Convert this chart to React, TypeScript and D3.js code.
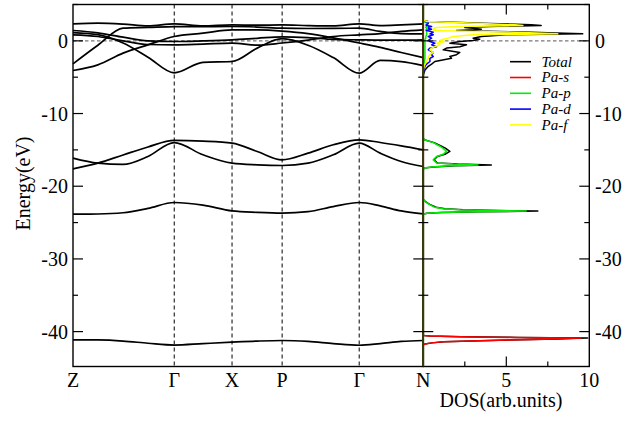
import React from "react";
import * as d3 from "d3";

// ---------- band structure data ----------
const kTicks = [0, 0.289, 0.454, 0.597, 0.817, 1.0];
const kLabels = ["Z", "Γ", "X", "P", "Γ", "N"];
const kGrid = [0, 0.071, 0.143, 0.214, 0.289, 0.371, 0.454, 0.526, 0.597, 0.671, 0.743, 0.817, 0.877, 0.937, 1.0];

const band6s = [-41.13, -41.15, -41.3, -41.6, -41.85, -41.65, -41.45, -41.3, -41.22, -41.35, -41.65, -41.88, -41.65, -41.35, -41.22];
const band5d = [-23.84, -23.82, -23.65, -23.05, -22.24, -22.6, -23.4, -23.6, -23.7, -23.5, -22.8, -22.24, -22.7, -23.4, -23.8];
const bandPa = [-16.14, -16.83, -17.0, -15.9, -14.0, -15.68, -16.83, -17.06, -17.15, -16.83, -15.68, -14.07, -15.45, -16.6, -17.29];
const bandPb = [-17.61, -16.83, -15.7, -14.6, -13.7, -13.8, -14.07, -15.22, -16.37, -15.45, -14.3, -13.62, -13.98, -14.44, -14.99];
const bandV1 = [1.14, 0.85, -0.3, -2.25, -4.4, -2.95, -2.84, -1.0, 0.3, -0.6, -2.3, -4.45, -2.7, -2.85, -3.4];
const bandV2 = [-4.08, -3.3, -1.69, -0.55, 0.6, 1.05, 1.51, 1.5, 1.35, 1.0, 0.4, -0.3, -0.9, -1.6, -2.3];
const bandV3 = [-3.16, -0.6, 1.74, 1.85, 1.97, 1.95, 1.97, 1.9, 1.74, 1.7, 1.72, 1.74, 1.3, 1.0, 0.96];
const bandV4 = [2.34, 2.43, 2.3, 2.05, 2.34, 2.05, 2.2, 2.15, 2.2, 2.1, 2.05, 2.34, 2.1, 2.2, 2.34];
const bandV5 = [1.42, 1.1, 0.5, 0.0, -0.09, 0.0, 0.14, 0.35, 0.55, 0.45, 0.2, 0.14, 0.1, 0.1, 0.14];
const bandV6 = [0.83, 0.6, 0.0, -0.5, -0.55, -0.45, -0.32, -0.6, -0.3, 0.1, 0.6, 0.83, 1.0, 1.3, 1.5];
const allBands = [band6s, band5d, bandPa, bandPb, bandV1, bandV2, bandV3, bandV4, bandV5, bandV6];

// ---------- DOS data (per energy region) ----------
const eValence = [2.8, 2.66, 2.55, 2.4, 2.2, 2.11, 1.97, 1.85, 1.74, 1.6, 1.5, 1.42, 1.3, 1.19, 1.05, 0.96, 0.83, 0.6, 0.37, 0.23, 0.05, -0.1, -0.32, -0.55, -0.8, -1.0, -1.24, -1.6, -1.9, -2.15, -2.4, -2.84, -3.2, -3.5, -4.0, -4.5, -4.8];
const totValence = [0, 0.3, 1.8, 4.0, 6.5, 7.1, 4.0, 2.5, 3.0, 3.5, 2.8, 2.0, 4.5, 6.5, 8.5, 9.6, 5.0, 3.5, 3.0, 3.4, 3.0, 2.2, 1.6, 2.6, 2.2, 1.4, 1.2, 2.2, 2.0, 1.6, 1.7, 0.7, 0.5, 0.3, 0.1, 0.03, 0];
const fValence = [0, 0.25, 1.5, 3.5, 5.5, 6.0, 2.0, 0.8, 0.6, 0.7, 0.6, 0.8, 3.0, 5.5, 7.2, 8.1, 3.0, 1.8, 1.5, 1.2, 1.0, 1.3, 0.8, 1.0, 0.7, 0.5, 0.4, 0.6, 0.4, 0.3, 0.3, 0.2, 0.1, 0.05, 0, 0, 0];
const dValence = [0, 0.1, 0.3, 0.3, 0.2, 0.2, 0.5, 0.3, 0.3, 0.5, 0.3, 0.2, 0.4, 0.6, 0.5, 0.4, 0.6, 0.3, 0.5, 0.4, 0.3, 0.4, 0.7, 0.5, 0.8, 0.4, 0.3, 0.6, 0.5, 0.6, 0.4, 0.4, 0.2, 0.1, 0.03, 0, 0];
const pValence = [0, 0.05, 0.15, 0.2, 0.15, 0.15, 0.2, 0.15, 0.2, 0.2, 0.15, 0.15, 0.2, 0.2, 0.2, 0.2, 0.2, 0.15, 0.15, 0.1, 0.1, 0.1, 0.1, 0.1, 0.1, 0.1, 0.1, 0.1, 0.1, 0.1, 0.1, 0.05, 0.05, 0.02, 0, 0, 0];

const eSemicoreP = [-13.4, -13.6, -14.0, -14.5, -14.8, -15.2, -15.6, -15.9, -16.37, -16.8, -16.95, -17.07, -17.2, -17.35, -17.5, -17.7];
const totSemicoreP = [0, 0.06, 0.65, 1.1, 1.35, 1.6, 1.3, 0.85, 0.65, 0.85, 2.1, 4.1, 1.9, 0.6, 0.06, 0];
const pSemicoreP = [0, 0.05, 0.6, 1.0, 1.2, 1.4, 1.2, 0.8, 0.6, 0.8, 1.8, 3.3, 1.6, 0.5, 0.05, 0];

const eDeepP = [-21.8, -22.1, -22.5, -22.9, -23.1, -23.25, -23.35, -23.42, -23.52, -23.62, -23.72, -23.85];
const totDeepP = [0, 0.11, 0.38, 0.77, 1.3, 2.4, 4.4, 6.9, 3.3, 1.1, 0.22, 0];
const pDeepP = [0, 0.1, 0.35, 0.7, 1.2, 2.2, 4.0, 6.2, 3.0, 1.0, 0.2, 0];

const eDeepS = [-40.45, -40.55, -40.62, -40.72, -40.8, -40.87, -40.93, -41.0, -41.2, -41.4, -41.55, -41.7, -41.85];
const totDeepS = [0, 0.05, 0.42, 2.3, 5.7, 9.9, 9.3, 8.1, 4.6, 1.25, 0.52, 0.1, 0];
const sDeepS = [0, 0.05, 0.4, 2.2, 5.5, 9.5, 9.0, 7.9, 4.5, 1.2, 0.5, 0.1, 0];

const energyMajor = [0, -10, -20, -30, -40];
const energyMinor = [5, -5, -15, -25, -35];
const dosMajor = [5];
const dosMinor = [2.5, 7.5];
const dosLabels = [5, 10];

const legendNames = ["Total", "Pa-s", "Pa-p", "Pa-d", "Pa-f"];
const legendColors = ["#000000", "#ff0000", "#00ee00", "#0000ff", "#ffff00"];

const zeros = (n: number) => new Array(n).fill(0);
const dosE = [5, ...eValence, ...eSemicoreP, ...eDeepP, ...eDeepS, -44.8];
const nV = eValence.length, nSP = eSemicoreP.length, nDP = eDeepP.length, nDS = eDeepS.length;
const dosTotal = [0, ...totValence, ...totSemicoreP, ...totDeepP, ...totDeepS, 0];
const dosS = [0, ...zeros(nV), ...zeros(nSP), ...zeros(nDP), ...sDeepS, 0];
const dosP = [0, ...pValence, ...pSemicoreP, ...pDeepP, ...zeros(nDS), 0];
const dosD = [0, ...dValence, ...zeros(nSP), ...zeros(nDP), ...zeros(nDS), 0];
const dosF = [0, ...fValence, ...zeros(nSP), ...zeros(nDP), ...zeros(nDS), 0];
const dosSeries = [dosTotal, dosS, dosP, dosD, dosF];

const W = 626, H = 422;
const xL = 73, xM = 423.3, xR = 589.3, yT = 4.5, yB = 366.5;
const FONT = "Liberation Serif, DejaVu Serif, serif";

export default function App() {
  const y = d3.scaleLinear().domain([-44.8, 5]).range([yB, yT]);
  const k = d3.scaleLinear().domain([0, 1]).range([xL, xM]);
  const dx = d3.scaleLinear().domain([0, 10]).range([xM, xR]);

  const bandLine = d3.line<number>()
    .x((_, i) => k(kGrid[i]))
    .y((d) => y(d))
    .curve(d3.curveMonotoneX);
  const dosLine = d3.line<number>()
    .x((d) => dx(d))
    .y((_, i) => y(dosE[i]));

  const ticksAt = (vals: number[], len: number) =>
    vals.map((v) => (
      <g key={"t" + v + len}>
        <line x1={xL} x2={xL + len} y1={y(v)} y2={y(v)} stroke="#000" strokeWidth={1.2} />
        <line x1={xM - len} x2={xM + len} y1={y(v)} y2={y(v)} stroke="#000" strokeWidth={1.2} />
        <line x1={xR - len} x2={xR} y1={y(v)} y2={y(v)} stroke="#000" strokeWidth={1.2} />
      </g>
    ));

  const txt = { fontFamily: FONT };

  return (
    <svg width={W} height={H} style={{ position: "fixed", left: 0, top: 0, background: "#fff", fontFamily: FONT }}>
      <rect x={0} y={0} width={W} height={H} fill="#fff" />
      {kTicks.slice(1, 5).map((t, i) => (
        <line key={"v" + i} x1={k(t)} x2={k(t)} y1={yT} y2={yB} stroke="#000" strokeWidth={1} strokeDasharray="4,3" />
      ))}
      <line x1={xL} x2={xR} y1={y(0)} y2={y(0)} stroke="#777" strokeWidth={1.2} strokeDasharray="3.5,2.5" />
      {allBands.map((b, i) => (
        <path key={"b" + i} d={bandLine(b) || ""} fill="none" stroke="#000" strokeWidth={1.7} />
      ))}
      {dosSeries.map((s, i) => (
        <path key={"d" + i} d={dosLine(s) || ""} fill="none" stroke={legendColors[i]} strokeWidth={1.5} strokeLinejoin="round" />
      ))}
      <rect x={xL} y={yT} width={xM - xL} height={yB - yT} fill="none" stroke="#000" strokeWidth={1.4} />
      <rect x={xM} y={yT} width={xR - xM} height={yB - yT} fill="none" stroke="#000" strokeWidth={1.4} />
      <line x1={xM} x2={xM} y1={yT} y2={yB} stroke="#3c3c00" strokeWidth={1.6} />
      {ticksAt(energyMajor, 10)}
      {ticksAt(energyMinor, 5)}
      {dosMajor.map((v) => (
        <g key={"dm" + v}>
          <line x1={dx(v)} x2={dx(v)} y1={yB} y2={yB - 10} stroke="#000" strokeWidth={1.2} />
          <line x1={dx(v)} x2={dx(v)} y1={yT} y2={yT + 10} stroke="#000" strokeWidth={1.2} />
        </g>
      ))}
      {dosMinor.map((v) => (
        <g key={"dn" + v}>
          <line x1={dx(v)} x2={dx(v)} y1={yB} y2={yB - 5} stroke="#000" strokeWidth={1.2} />
          <line x1={dx(v)} x2={dx(v)} y1={yT} y2={yT + 5} stroke="#000" strokeWidth={1.2} />
        </g>
      ))}
      {energyMajor.map((v) => (
        <text key={"el" + v} style={txt} x={68} y={y(v) + 7} fontSize={20} textAnchor="end">{v === 0 ? "0" : "-" + Math.abs(v)}</text>
      ))}
      {energyMajor.map((v) => (
        <text key={"er" + v} style={txt} x={595} y={y(v) + 7} fontSize={20} textAnchor="start">{v === 0 ? "0" : "-" + Math.abs(v)}</text>
      ))}
      {kTicks.map((t, i) => (
        <text key={"kl" + i} style={txt} x={k(t)} y={387} fontSize={20} textAnchor="middle">{kLabels[i]}</text>
      ))}
      {dosLabels.map((v) => (
        <text key={"dl" + v} style={txt} x={dx(v)} y={387} fontSize={20} textAnchor="middle">{v}</text>
      ))}
      <text style={txt} x={501} y={407} fontSize={20} textAnchor="middle">DOS(arb.units)</text>
      <text style={txt} transform={`translate(30,${183.5}) rotate(-90)`} fontSize={20} textAnchor="middle">Energy(eV)</text>
      {legendNames.map((n, i) => (
        <g key={"lg" + i}>
          <line x1={510} x2={531} y1={61.7 + i * 15.8} y2={61.7 + i * 15.8} stroke={legendColors[i]} strokeWidth={1.6} />
          <text style={txt} x={541.5} y={66.5 + i * 15.8} fontSize={15} fontStyle="italic">{n}</text>
        </g>
      ))}
    </svg>
  );
}
